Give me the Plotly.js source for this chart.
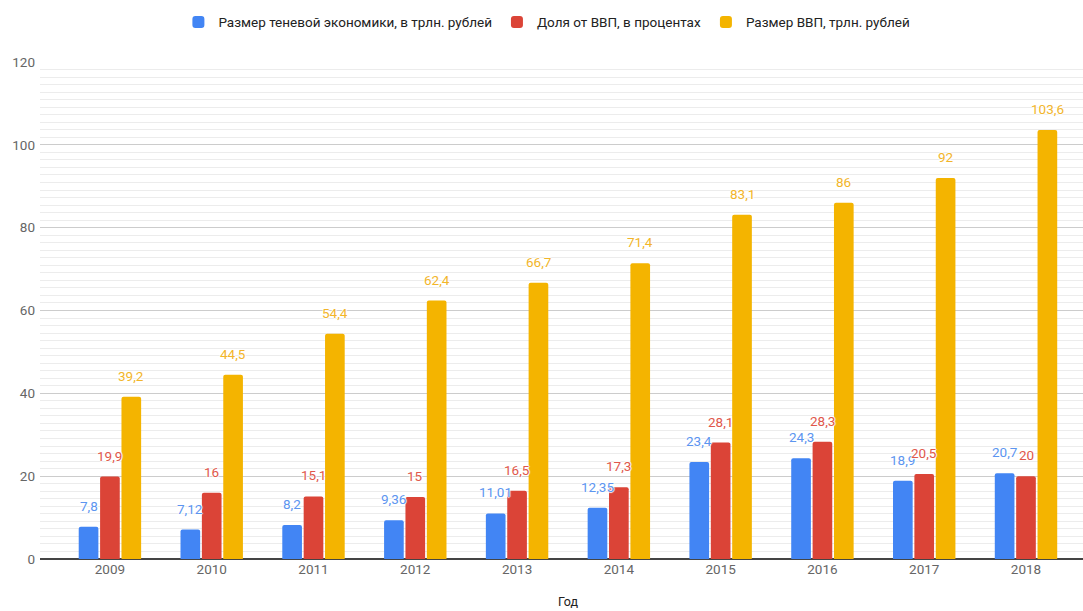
<!DOCTYPE html>
<html>
<head>
<meta charset="utf-8">
<script src="https://cdn.plot.ly/plotly-3.0.1.min.js"></script>
<style>html,body{margin:0;padding:0;background:#fff;}#chart{width:1083px;height:611px;}</style>
</head>
<body>
<div id="chart"></div>
<script>
const years = ['2009','2010','2011','2012','2013','2014','2015','2016','2017','2018'];
const shadow = [7.8, 7.12, 8.2, 9.36, 11.01, 12.35, 23.4, 24.3, 18.9, 20.7];
const sharePct = [19.9, 16, 15.1, 15, 16.5, 17.3, 28.1, 28.3, 20.5, 20];
const gdp = [39.2, 44.5, 54.4, 62.4, 66.7, 71.4, 83.1, 86, 92, 103.6];
const seriesNames = ['Размер теневой экономики, в трлн. рублей', 'Доля от ВВП, в процентах', 'Размер ВВП, трлн. рублей'];
const yTicks = [0, 20, 40, 60, 80, 100, 120];
const xTitle = 'Год';

const colors = ['#4285F4', '#DB4437', '#F4B400'];
const labelColors = ['#5c95f0', '#e0574b', '#f2b52a'];
const series = [shadow, sharePct, gdp];

const fmt = v => String(v).replace('.', ',');
const halo = '1px 0 1px #fff, -1px 0 1px #fff, 0 1px 1px #fff, 0 -1px 1px #fff';

const traces = series.map((vals, s) => ({
  type: 'bar',
  name: seriesNames[s],
  x: years,
  y: vals,
  marker: {color: colors[s]},
  hoverinfo: 'none'
}));

const bargap = 0.37, groupgap = 0.08;
const groupW = 1 - bargap;
const slot = groupW / 3;
const annotations = [];
series.forEach((vals, s) => {
  vals.forEach((v, i) => {
    annotations.push({
      x: i - groupW / 2 + slot * (s + 0.5),
      y: v,
      xref: 'x', yref: 'y',
      text: fmt(v),
      showarrow: false,
      yanchor: 'middle',
      yshift: 21,
      font: {family: 'Roboto, sans-serif', size: 13.5, color: labelColors[s], shadow: halo}
    });
  });
});
annotations.push({
  x: 0.506, xref: 'paper',
  yref: 'paper', y: -0.0865, yanchor: 'middle', showarrow: false,
  text: xTitle,
  font: {family: 'Roboto, sans-serif', size: 12.5, color: '#222'}
});

const layout = {
  width: 1083, height: 611,
  margin: {l: 40, r: 0, t: 62, b: 52},
  paper_bgcolor: '#fff', plot_bgcolor: '#fff',
  font: {family: 'Roboto, sans-serif', size: 13, color: '#666'},
  barmode: 'group',
  bargap: bargap,
  bargroupgap: groupgap,
  barcornerradius: 2,
  showlegend: true,
  legend: {
    orientation: 'h', x: 0.486, xanchor: 'center', y: 1.08, yanchor: 'middle',
    font: {family: 'Roboto, sans-serif', size: 13.5, color: '#222'},
    tracegroupgap: 0
  },
  xaxis: {
    type: 'category',
    range: [-0.687, 9.56],
    showgrid: false,
    showline: false,
    zeroline: false,
    ticks: '',
    tickfont: {family: 'Roboto, sans-serif', size: 13.5, color: '#666'},
    fixedrange: true
  },
  yaxis: {
    range: [0, 120],
    tickvals: yTicks,
    ticktext: yTicks.map(String),
    showgrid: true,
    gridcolor: '#cccccc',
    gridwidth: 1,
    zeroline: true,
    zerolinecolor: '#444',
    zerolinewidth: 1.2,
    showline: false,
    ticks: '',
    ticklabelstandoff: 4,
    tickfont: {family: 'Roboto, sans-serif', size: 13.5, color: '#666'},
    minor: {dtick: 20 / 11, tick0: 0, showgrid: true, gridcolor: '#ececec', gridwidth: 1},
    fixedrange: true
  },
  annotations: annotations
};

Plotly.newPlot('chart', traces, layout, {displayModeBar: false, staticPlot: true});
</script>
</body>
</html>
